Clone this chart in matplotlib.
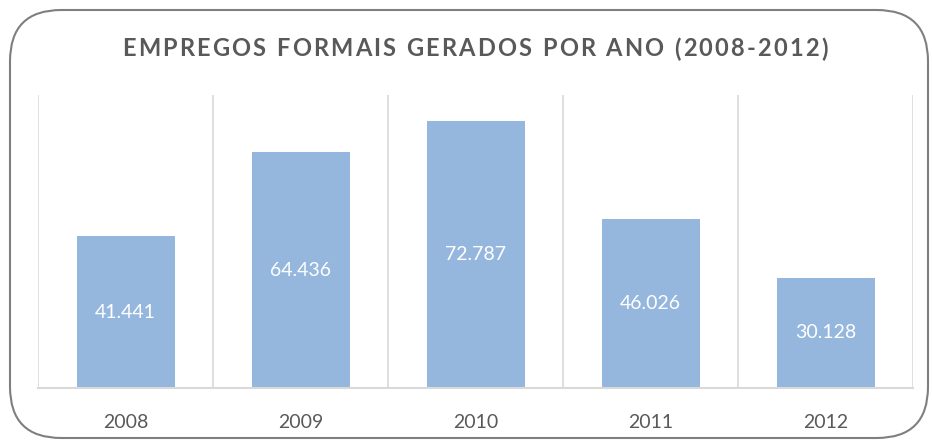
import matplotlib.pyplot as plt
from matplotlib.patches import FancyBboxPatch

anos = ['2008', '2009', '2010', '2011', '2012']
empregos = [41441, 64436, 72787, 46026, 30128]
rotulos = ['41.441', '64.436', '72.787', '46.026', '30.128']

titulo = 'EMPREGOS FORMAIS GERADOS POR ANO (2008-2012)'

plt.rcParams['font.family'] = ['Lato', 'DejaVu Sans']

COR_BARRA = '#95B7DE'
COR_TEXTO = '#595959'
COR_GRADE = '#D9D9D9'

fig = plt.figure(figsize=(9.32, 4.4), dpi=100)
W, H = 932, 440

# moldura arredondada
moldura = FancyBboxPatch((10 / W, 2 / H), 918 / W, 428 / H,
                         boxstyle='round,pad=0,rounding_size=0.055',
                         transform=fig.transFigure, fill=False,
                         edgecolor='#7F7F7F', linewidth=1.5,
                         mutation_aspect=W / H)
fig.patches.append(moldura)

ax = fig.add_axes([38 / W, (H - 388) / H, 875 / W, 293 / H])
x = range(len(anos))
barras = ax.bar(x, empregos, width=0.56, color=COR_BARRA, zorder=2)

for b, r in zip(barras, rotulos):
    ax.text(b.get_x() + b.get_width() / 2, b.get_height() / 2, r,
            ha='center', va='center', color='white', fontsize=14)

ax.set_xlim(-0.5, len(anos) - 0.5)
ax.set_ylim(0, 80000)
ax.set_yticks([])
ax.set_xticks(list(x))
ax.set_xticklabels(anos, fontsize=14, color=COR_TEXTO)
ax.tick_params(axis='x', length=0, pad=19)
for xv in [i - 0.5 for i in range(len(anos) + 1)]:
    ax.axvline(xv, color=COR_GRADE, linewidth=1.2, zorder=1)
for lado in ['top', 'left', 'right']:
    ax.spines[lado].set_visible(False)
ax.spines['bottom'].set_color(COR_GRADE)
ax.spines['bottom'].set_linewidth(1.5)

# titulo com espacamento entre letras
fig.canvas.draw()
renderer = fig.canvas.get_renderer()
kw = dict(fontsize=17, fontweight='bold', color=COR_TEXTO, va='center', ha='left')
larguras = []
for c in titulo:
    t = fig.text(0, 0, c if c != ' ' else 'i', **kw)
    larguras.append(t.get_window_extent(renderer).width)
    t.remove()
x0, x1 = 122, 828
espaco = (x1 - x0 - sum(larguras)) / (len(titulo) - 1)
px = x0
for c, w in zip(titulo, larguras):
    if c != ' ':
        fig.text(px / W, (H - 49) / H, c, **kw)
    px += w + espaco

fig.savefig('out.png', dpi=100)
